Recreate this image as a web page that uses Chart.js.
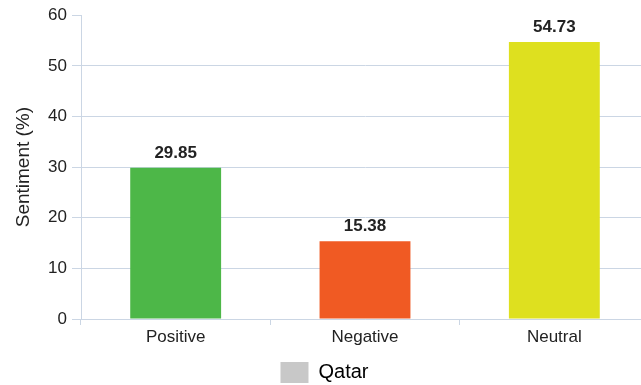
<!DOCTYPE html>
<html>
<head>
<meta charset="utf-8">
<script src="https://cdn.jsdelivr.net/npm/chart.js@4/dist/chart.umd.min.js"></script>
<style>
  html, body { margin: 0; padding: 0; background: #fff; overflow: hidden; }
  #wrap { width: 714px; height: 385px; }
</style>
</head>
<body>
<div id="wrap"><canvas id="c" width="714" height="385"></canvas></div>
<script>
const categories = ['Positive', 'Negative', 'Neutral'];
const sentimentValues = [29.85, 15.38, 54.73];
const barColors = ['#4db748', '#f05a23', '#dee01f'];
const seriesName = 'Qatar';
const yTicks = [0, 10, 20, 30, 40, 50, 60];

const FONT = "'Liberation Sans', Arial, Helvetica, sans-serif";
const gridColor = '#cbd6e4';

// Writes each bar's value just above its top
const valueLabels = {
  id: 'valueLabels',
  afterDatasetsDraw(chart) {
    const ctx = chart.ctx;
    const meta = chart.getDatasetMeta(0);
    ctx.save();
    ctx.font = "bold 17px " + FONT;
    ctx.fillStyle = '#222';
    ctx.textAlign = 'center';
    ctx.textBaseline = 'alphabetic';
    meta.data.forEach((bar, i) => {
      ctx.fillText(sentimentValues[i].toFixed(2), bar.x, bar.y - 10);
    });
    ctx.restore();
  }
};

new Chart(document.getElementById('c'), {
  type: 'bar',
  data: {
    labels: categories,
    datasets: [{
      label: seriesName,
      data: sentimentValues,
      backgroundColor: barColors,
      borderWidth: 0,
      categoryPercentage: 1,
      barPercentage: 0.48
    }]
  },
  options: {
    responsive: false,
    animation: false,
    layout: { padding: { top: 11, right: 65, bottom: -8, left: 0 } },
    plugins: {
      legend: {
        position: 'bottom',
        labels: {
          generateLabels: () => [{
            text: seriesName,
            fillStyle: '#c8c8c8',
            strokeStyle: '#c8c8c8',
            lineWidth: 0,
            datasetIndex: 0
          }],
          boxWidth: 28,
          boxHeight: 21,
          padding: 2,
          color: '#1e1e1e',
          font: { family: FONT, size: 20 }
        }
      },
      tooltip: { enabled: false }
    },
    scales: {
      x: {
        grid: {
          drawOnChartArea: false,
          drawTicks: true,
          tickLength: 6,
          color: gridColor
        },
        border: { color: gridColor, width: 1 },
        ticks: { color: '#222', font: { family: FONT, size: 17 }, padding: 2 },
        afterFit(s) { s.height = 41; }
      },
      y: {
        min: 0,
        max: 60,
        afterBuildTicks(s) { s.ticks = yTicks.map(v => ({ value: v })); },
        grid: {
          color: ctx => (ctx.tick && ctx.tick.value === 60) ? 'rgba(0,0,0,0)' : gridColor,
          tickColor: gridColor,
          tickLength: 9,
          lineWidth: 1
        },
        border: { color: gridColor, width: 1 },
        ticks: { color: '#222', font: { family: FONT, size: 17 }, padding: 5 },
        title: {
          display: true,
          text: 'Sentiment (%)',
          color: '#222',
          font: { family: FONT, size: 19 },
          padding: { top: 12, bottom: 0 }
        },
        afterFit(s) { s.width = 81; }
      }
    }
  },
  plugins: [valueLabels]
});
</script>
</body>
</html>
